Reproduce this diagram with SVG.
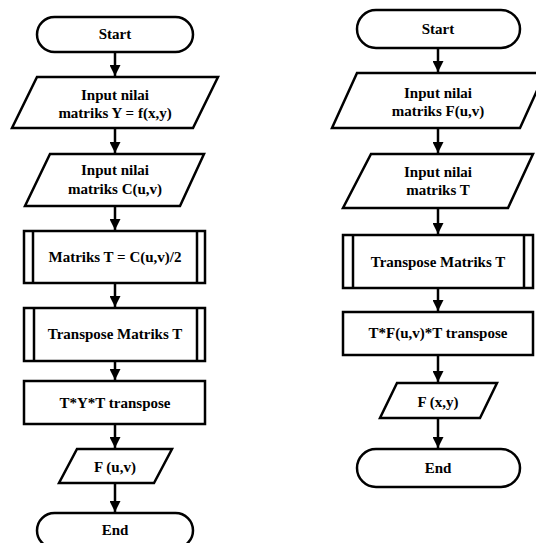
<svg xmlns="http://www.w3.org/2000/svg" width="536" height="543" viewBox="0 0 536 543">
<defs>
<marker id="ah" markerWidth="11" markerHeight="11" refX="11" refY="5.5" orient="auto" markerUnits="userSpaceOnUse" viewBox="0 0 11 11">
<path d="M0,0 L11,5.5 L0,11 Z" fill="#000"/>
</marker>
<style>
.s{fill:#fff;stroke:#000;stroke-width:2.5;stroke-linejoin:miter}
.l{fill:none;stroke:#000;stroke-width:2.5}
.c{stroke:#000;stroke-width:2.5;fill:none}
text{font-family:"Liberation Serif","Times New Roman",serif;font-weight:bold;font-size:15px;text-anchor:middle;fill:#000}
</style>
</defs>
<rect width="536" height="543" fill="#fff"/>
<g id="connectors">
<line class="c" x1="115" y1="52" x2="115" y2="76" marker-end="url(#ah)"/>
<line class="c" x1="115" y1="128" x2="115" y2="153" marker-end="url(#ah)"/>
<line class="c" x1="115" y1="206" x2="115" y2="230" marker-end="url(#ah)"/>
<line class="c" x1="115" y1="283" x2="115" y2="307" marker-end="url(#ah)"/>
<line class="c" x1="115" y1="361" x2="115" y2="380" marker-end="url(#ah)"/>
<line class="c" x1="115" y1="424" x2="115" y2="448" marker-end="url(#ah)"/>
<line class="c" x1="115" y1="483" x2="115" y2="512" marker-end="url(#ah)"/>
<line class="c" x1="438" y1="48" x2="438" y2="72" marker-end="url(#ah)"/>
<line class="c" x1="438" y1="128" x2="438" y2="153" marker-end="url(#ah)"/>
<line class="c" x1="438" y1="208" x2="438" y2="234" marker-end="url(#ah)"/>
<line class="c" x1="438" y1="288" x2="438" y2="311" marker-end="url(#ah)"/>
<line class="c" x1="438" y1="355" x2="438" y2="382" marker-end="url(#ah)"/>
<line class="c" x1="438" y1="418" x2="438" y2="448" marker-end="url(#ah)"/>
</g>
<g id="startL">
<rect class="s" x="37" y="17" width="156" height="35" rx="17.5"/>
<text x="115" y="39">Start</text>
</g>
<g id="inputY">
<polygon class="s" points="37,77 218,77 193,128 12,128"/>
<text x="115" y="100">Input nilai</text>
<text x="115" y="118">matriks Y = f(x,y)</text>
</g>
<g id="inputC">
<polygon class="s" points="50,154 204,154 180,206 25,206"/>
<text x="115" y="175">Input nilai</text>
<text x="115" y="194">matriks C(u,v)</text>
</g>
<g id="matriksT">
<rect class="s" x="24" y="231" width="181" height="52"/>
<line class="l" x1="33" y1="231" x2="33" y2="283"/>
<line class="l" x1="197" y1="231" x2="197" y2="283"/>
<text x="115" y="262">Matriks T = C(u,v)/2</text>
</g>
<g id="transposeL">
<rect class="s" x="24" y="308" width="181" height="53"/>
<line class="l" x1="34" y1="308" x2="34" y2="361"/>
<line class="l" x1="197" y1="308" x2="197" y2="361"/>
<text x="115" y="339">Transpose Matriks T</text>
</g>
<g id="tyt">
<rect class="s" x="24" y="381" width="181" height="43"/>
<text x="115" y="408">T*Y*T transpose</text>
</g>
<g id="outFuv">
<polygon class="s" points="77,449 172,449 154,483 59,483"/>
<text x="115" y="472">F (u,v)</text>
</g>
<g id="endL">
<rect class="s" x="37" y="513" width="156" height="35" rx="17.5"/>
<text x="115" y="535">End</text>
</g>
<g id="startR">
<rect class="s" x="357" y="10" width="163" height="38" rx="19"/>
<text x="438" y="34">Start</text>
</g>
<g id="inputF">
<polygon class="s" points="357,73 545,73 520,128 332,128"/>
<text x="438" y="98">Input nilai</text>
<text x="438" y="116">matriks F(u,v)</text>
</g>
<g id="inputT">
<polygon class="s" points="371,154 533,154 508,208 343,208"/>
<text x="438" y="177">Input nilai</text>
<text x="438" y="195">matriks T</text>
</g>
<g id="transposeR">
<rect class="s" x="343" y="235" width="190" height="53"/>
<line class="l" x1="353" y1="235" x2="353" y2="288"/>
<line class="l" x1="524" y1="235" x2="524" y2="288"/>
<text x="438" y="267">Transpose Matriks T</text>
</g>
<g id="tft">
<rect class="s" x="343" y="312" width="190" height="43"/>
<text x="438" y="338">T*F(u,v)*T transpose</text>
</g>
<g id="outFxy">
<polygon class="s" points="397,383 497,383 480,418 380,418"/>
<text x="438" y="407">F (x,y)</text>
</g>
<g id="endR">
<rect class="s" x="357" y="449" width="163" height="38" rx="19"/>
<text x="438" y="473">End</text>
</g>
</svg>
